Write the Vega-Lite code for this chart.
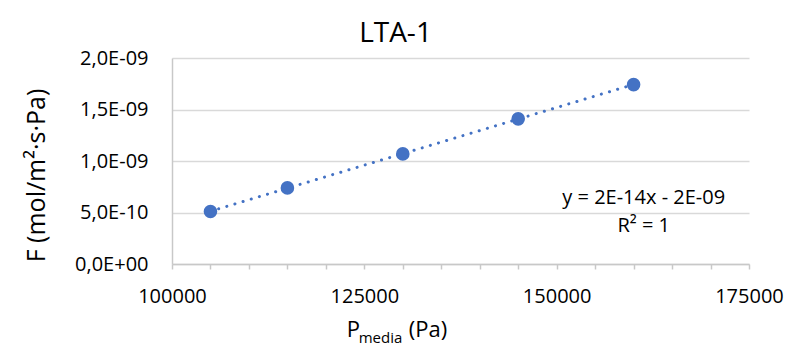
{
  "$schema": "https://vega.github.io/schema/vega-lite/v6.json",
  "width": 577,
  "height": 206,
  "autosize": {"type": "none"},
  "padding": {"left": 172, "top": 58, "right": 45, "bottom": 83},
  "background": "white",
  "title": {
    "text": "LTA-1",
    "font": "Open Sans",
    "fontSize": 28,
    "fontWeight": "normal",
    "color": "#000000",
    "anchor": "middle",
    "dx": -65,
    "offset": 0
  },
  "config": {
    "view": {"stroke": null},
    "font": "Open Sans",
    "axis": {
      "labelFont": "Open Sans",
      "labelFontSize": 20,
      "labelColor": "#000000",
      "titleFont": "Open Sans",
      "titleFontWeight": "normal",
      "titleColor": "#000000",
      "domainColor": "#C8C8C8",
      "domainWidth": 1.5
    }
  },
  "datasets": {
    "flux": [
      {"P": 105000, "F": 5.10e-10},
      {"P": 115000, "F": 7.39e-10},
      {"P": 130000, "F": 1.069e-9},
      {"P": 145000, "F": 1.409e-9},
      {"P": 160000, "F": 1.742e-9}
    ],
    "note": [{"label": "annotation"}]
  },
  "layer": [
    {
      "data": {"name": "flux"},
      "transform": [{"regression": "F", "on": "P", "extent": [105000, 160000]}],
      "mark": {
        "type": "line",
        "color": "#4472C4",
        "strokeWidth": 3,
        "strokeCap": "round",
        "strokeDash": [0.1, 8.4]
      },
      "encoding": {
        "x": {
          "field": "P",
          "type": "quantitative",
          "scale": {"domain": [100000, 175000], "nice": false, "zero": false},
          "axis": {"title": null, "grid": false, "values": [100000, 105000, 110000, 115000, 120000, 125000, 130000, 135000, 140000, 145000, 150000, 155000, 160000, 165000, 170000, 175000], "labelExpr": "datum.value % 25000 === 0 ? format(datum.value, 'd') : ''", "labelFlush": false, "labelOverlap": false, "labelPadding": 17, "tickColor": "#C8C8C8", "tickWidth": 1.5, "tickSize": 5}
        },
        "y": {
          "field": "F",
          "type": "quantitative",
          "scale": {"domain": [0, 2e-9], "nice": false},
          "axis": {"title": "F (mol/m²·s·Pa)", "titleFontSize": 25, "titleX": -136, "titleY": 117, "titleAngle": -90, "titleAlign": "center", "titleBaseline": "middle", "values": [0, 5e-10, 1e-9, 1.5e-9, 2e-9], "labelExpr": "datum.value === 0 ? '0,0E+00' : (datum.value < 9e-10 ? replace(format(datum.value / 1e-10, '.1f'), '.', ',') + 'E-10' : replace(format(datum.value / 1e-9, '.1f'), '.', ',') + 'E-09')", "labelPadding": 24, "ticks": false, "tickSize": 0, "grid": true, "gridColor": "#D9D9D9", "gridWidth": 1.5}
        }
      }
    },
    {
      "data": {"name": "flux"},
      "mark": {"type": "point", "filled": true, "opacity": 1, "size": 185, "color": "#4472C4"},
      "encoding": {
        "x": {
          "field": "P",
          "type": "quantitative",
          "scale": {"domain": [100000, 175000], "nice": false, "zero": false},
          "axis": {"title": null, "grid": false, "values": [100000, 105000, 110000, 115000, 120000, 125000, 130000, 135000, 140000, 145000, 150000, 155000, 160000, 165000, 170000, 175000], "labelExpr": "datum.value % 25000 === 0 ? format(datum.value, 'd') : ''", "labelFlush": false, "labelOverlap": false, "labelPadding": 17, "tickColor": "#C8C8C8", "tickWidth": 1.5, "tickSize": 5}
        },
        "y": {
          "field": "F",
          "type": "quantitative",
          "scale": {"domain": [0, 2e-9], "nice": false},
          "axis": {"title": "F (mol/m²·s·Pa)", "titleFontSize": 25, "titleX": -136, "titleY": 117, "titleAngle": -90, "titleAlign": "center", "titleBaseline": "middle", "values": [0, 5e-10, 1e-9, 1.5e-9, 2e-9], "labelExpr": "datum.value === 0 ? '0,0E+00' : (datum.value < 9e-10 ? replace(format(datum.value / 1e-10, '.1f'), '.', ',') + 'E-10' : replace(format(datum.value / 1e-9, '.1f'), '.', ',') + 'E-09')", "labelPadding": 24, "ticks": false, "tickSize": 0, "grid": true, "gridColor": "#D9D9D9", "gridWidth": 1.5}
        }
      }
    },
    {
      "data": {"name": "note"},
      "mark": {"type": "text", "font": "Open Sans", "fontSize": 20, "fontWeight": "normal", "align": "center", "baseline": "middle", "color": "#000000", "text": "y = 2E-14x - 2E-09"},
      "encoding": {
        "x": {
          "datum": 161313,
          "type": "quantitative",
          "axis": {"title": null, "grid": false, "values": [100000, 105000, 110000, 115000, 120000, 125000, 130000, 135000, 140000, 145000, 150000, 155000, 160000, 165000, 170000, 175000], "labelExpr": "datum.value % 25000 === 0 ? format(datum.value, 'd') : ''", "labelFlush": false, "labelOverlap": false, "labelPadding": 17, "tickColor": "#C8C8C8", "tickWidth": 1.5, "tickSize": 5}
        },
        "y": {
          "datum": 6.41e-10,
          "type": "quantitative",
          "axis": {"title": "F (mol/m²·s·Pa)", "titleFontSize": 25, "titleX": -136, "titleY": 117, "titleAngle": -90, "titleAlign": "center", "titleBaseline": "middle", "values": [0, 5e-10, 1e-9, 1.5e-9, 2e-9], "labelExpr": "datum.value === 0 ? '0,0E+00' : (datum.value < 9e-10 ? replace(format(datum.value / 1e-10, '.1f'), '.', ',') + 'E-10' : replace(format(datum.value / 1e-9, '.1f'), '.', ',') + 'E-09')", "labelPadding": 24, "ticks": false, "tickSize": 0, "grid": true, "gridColor": "#D9D9D9", "gridWidth": 1.5}
        }
      }
    },
    {
      "data": {"name": "note"},
      "mark": {"type": "text", "font": "Open Sans", "fontSize": 20, "fontWeight": "normal", "align": "center", "baseline": "middle", "color": "#000000", "text": "R² = 1"},
      "encoding": {
        "x": {
          "datum": 161313,
          "type": "quantitative",
          "axis": {"title": null, "grid": false, "values": [100000, 105000, 110000, 115000, 120000, 125000, 130000, 135000, 140000, 145000, 150000, 155000, 160000, 165000, 170000, 175000], "labelExpr": "datum.value % 25000 === 0 ? format(datum.value, 'd') : ''", "labelFlush": false, "labelOverlap": false, "labelPadding": 17, "tickColor": "#C8C8C8", "tickWidth": 1.5, "tickSize": 5}
        },
        "y": {
          "datum": 3.69e-10,
          "type": "quantitative",
          "axis": {"title": "F (mol/m²·s·Pa)", "titleFontSize": 25, "titleX": -136, "titleY": 117, "titleAngle": -90, "titleAlign": "center", "titleBaseline": "middle", "values": [0, 5e-10, 1e-9, 1.5e-9, 2e-9], "labelExpr": "datum.value === 0 ? '0,0E+00' : (datum.value < 9e-10 ? replace(format(datum.value / 1e-10, '.1f'), '.', ',') + 'E-10' : replace(format(datum.value / 1e-9, '.1f'), '.', ',') + 'E-09')", "labelPadding": 24, "ticks": false, "tickSize": 0, "grid": true, "gridColor": "#D9D9D9", "gridWidth": 1.5}
        }
      }
    },
    {
      "data": {"name": "note"},
      "mark": {"type": "text", "font": "Open Sans", "fontSize": 22, "fontWeight": "normal", "align": "left", "baseline": "alphabetic", "color": "#000000", "text": "P"},
      "encoding": {
        "x": {
          "datum": 122708,
          "type": "quantitative",
          "axis": {"title": null, "grid": false, "values": [100000, 105000, 110000, 115000, 120000, 125000, 130000, 135000, 140000, 145000, 150000, 155000, 160000, 165000, 170000, 175000], "labelExpr": "datum.value % 25000 === 0 ? format(datum.value, 'd') : ''", "labelFlush": false, "labelOverlap": false, "labelPadding": 17, "tickColor": "#C8C8C8", "tickWidth": 1.5, "tickSize": 5}
        },
        "y": {
          "datum": -7.09e-10,
          "type": "quantitative",
          "axis": {"title": "F (mol/m²·s·Pa)", "titleFontSize": 25, "titleX": -136, "titleY": 117, "titleAngle": -90, "titleAlign": "center", "titleBaseline": "middle", "values": [0, 5e-10, 1e-9, 1.5e-9, 2e-9], "labelExpr": "datum.value === 0 ? '0,0E+00' : (datum.value < 9e-10 ? replace(format(datum.value / 1e-10, '.1f'), '.', ',') + 'E-10' : replace(format(datum.value / 1e-9, '.1f'), '.', ',') + 'E-09')", "labelPadding": 24, "ticks": false, "tickSize": 0, "grid": true, "gridColor": "#D9D9D9", "gridWidth": 1.5}
        }
      }
    },
    {
      "data": {"name": "note"},
      "mark": {"type": "text", "font": "Open Sans", "fontSize": 15, "fontWeight": "normal", "align": "left", "baseline": "alphabetic", "color": "#000000", "text": "media"},
      "encoding": {
        "x": {
          "datum": 124270,
          "type": "quantitative",
          "axis": {"title": null, "grid": false, "values": [100000, 105000, 110000, 115000, 120000, 125000, 130000, 135000, 140000, 145000, 150000, 155000, 160000, 165000, 170000, 175000], "labelExpr": "datum.value % 25000 === 0 ? format(datum.value, 'd') : ''", "labelFlush": false, "labelOverlap": false, "labelPadding": 17, "tickColor": "#C8C8C8", "tickWidth": 1.5, "tickSize": 5}
        },
        "y": {
          "datum": -7.67e-10,
          "type": "quantitative",
          "axis": {"title": "F (mol/m²·s·Pa)", "titleFontSize": 25, "titleX": -136, "titleY": 117, "titleAngle": -90, "titleAlign": "center", "titleBaseline": "middle", "values": [0, 5e-10, 1e-9, 1.5e-9, 2e-9], "labelExpr": "datum.value === 0 ? '0,0E+00' : (datum.value < 9e-10 ? replace(format(datum.value / 1e-10, '.1f'), '.', ',') + 'E-10' : replace(format(datum.value / 1e-9, '.1f'), '.', ',') + 'E-09')", "labelPadding": 24, "ticks": false, "tickSize": 0, "grid": true, "gridColor": "#D9D9D9", "gridWidth": 1.5}
        }
      }
    },
    {
      "data": {"name": "note"},
      "mark": {"type": "text", "font": "Open Sans", "fontSize": 22, "fontWeight": "normal", "align": "left", "baseline": "alphabetic", "color": "#000000", "text": "(Pa)"},
      "encoding": {
        "x": {
          "datum": 130769,
          "type": "quantitative",
          "axis": {"title": null, "grid": false, "values": [100000, 105000, 110000, 115000, 120000, 125000, 130000, 135000, 140000, 145000, 150000, 155000, 160000, 165000, 170000, 175000], "labelExpr": "datum.value % 25000 === 0 ? format(datum.value, 'd') : ''", "labelFlush": false, "labelOverlap": false, "labelPadding": 17, "tickColor": "#C8C8C8", "tickWidth": 1.5, "tickSize": 5}
        },
        "y": {
          "datum": -7.09e-10,
          "type": "quantitative",
          "axis": {"title": "F (mol/m²·s·Pa)", "titleFontSize": 25, "titleX": -136, "titleY": 117, "titleAngle": -90, "titleAlign": "center", "titleBaseline": "middle", "values": [0, 5e-10, 1e-9, 1.5e-9, 2e-9], "labelExpr": "datum.value === 0 ? '0,0E+00' : (datum.value < 9e-10 ? replace(format(datum.value / 1e-10, '.1f'), '.', ',') + 'E-10' : replace(format(datum.value / 1e-9, '.1f'), '.', ',') + 'E-09')", "labelPadding": 24, "ticks": false, "tickSize": 0, "grid": true, "gridColor": "#D9D9D9", "gridWidth": 1.5}
        }
      }
    }
  ]
}
